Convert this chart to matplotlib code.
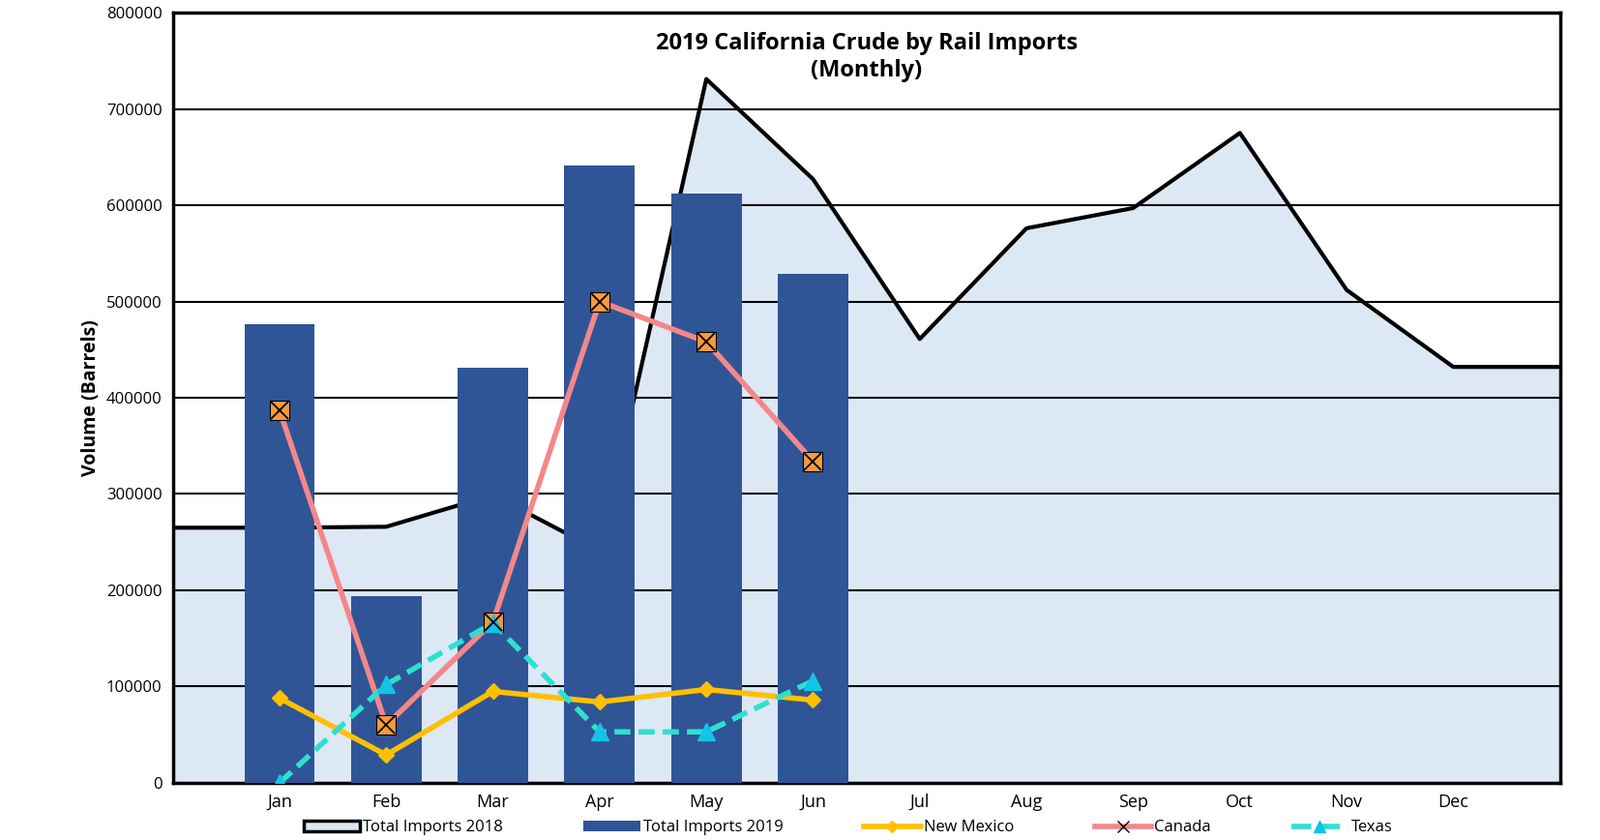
import matplotlib
matplotlib.use("Agg")
import matplotlib.pyplot as plt
import numpy as np
from matplotlib.lines import Line2D
from matplotlib.patches import Patch

months = ["Jan","Feb","Mar","Apr","May","Jun","Jul","Aug","Sep","Oct","Nov","Dec"]
total_2018 = [265000,266000,299000,241000,731000,627000,461000,576000,597000,675000,512000,432000]
total_2019 = [476000,194000,431000,641000,612000,529000]
new_mexico = [88000,29000,95000,84000,97000,86000]
canada = [387000,60000,167000,500000,458000,334000]
texas = [0,102000,166000,53000,53000,106000]

plt.rcParams["font.family"] = "Open Sans"
fig = plt.figure(figsize=(16.54, 8.68), dpi=100)
ax = fig.add_axes([0.108, 0.068, 0.867, 0.917])

x = np.arange(len(months))
xa = np.concatenate([[-1], x, [12]])
ya = np.concatenate([[total_2018[0]], total_2018, [total_2018[-1]]])
ax.fill_between(xa, ya, color="#dde8f5", zorder=1)
ax.plot(xa, ya, color="black", lw=3, zorder=2)

xb = np.arange(len(total_2019))
ax.bar(xb, total_2019, width=0.66, color="#2f5597", zorder=3)
ax.plot(xb, new_mexico, color="#ffc000", lw=4, marker="D", ms=8, zorder=4)
ax.plot(xb, canada, color="#f4878a", lw=4, zorder=4)
ax.plot(xb, canada, ls="none", marker="s", ms=15, mfc="#f79a3e", mec="black", mew=0.8, zorder=5)
ax.plot(xb, canada, ls="none", marker="x", ms=13, mec="black", mew=1.3, zorder=6)
ax.plot(xb, texas, color="#2ee0d0", lw=4, ls=(0, (3, 1.5)), zorder=4)
ax.plot(xb, texas, ls="none", marker="^", ms=13, color="#12c4e6", zorder=5)

ax.set_xlim(-1, 12)
ax.set_ylim(0, 800000)
ax.set_yticks(range(0, 800001, 100000))
ax.set_yticklabels([str(v) for v in range(0, 800001, 100000)], fontsize=12)
ax.set_xticks(x)
ax.set_xticklabels(months, fontsize=13)
ax.tick_params(length=0, pad=8)
ax.yaxis.grid(True, color="black", lw=1.5, zorder=0)
ax.set_axisbelow(False)
for s in ax.spines.values():
    s.set_linewidth(2.5)
ax.set_ylabel("Volume (Barrels)", fontsize=14, fontweight="bold")
ax.text(0.5, 0.975, "2019 California Crude by Rail Imports\n(Monthly)", transform=ax.transAxes,
        ha="center", va="top", fontsize=17, fontweight="bold", zorder=10)

handles = [
    Patch(facecolor="#dde8f5", edgecolor="black", lw=2.5),
    Patch(facecolor="#2f5597"),
    Line2D([], [], color="#ffc000", lw=4, marker="D", ms=6),
    Line2D([], [], color="#f4878a", lw=4, marker="x", mec="black", ms=8),
    Line2D([], [], color="#2ee0d0", lw=4, ls="--", marker="^", mfc="#12c4e6", mec="#12c4e6", ms=8),
]
labels = ["Total Imports 2018", "Total Imports 2019", "New Mexico", "Canada", "Texas"]
fig.legend(handles, labels, loc="lower center", bbox_to_anchor=(0.53, -0.012), ncol=5, frameon=False,
           fontsize=12, columnspacing=5, handlelength=3.5, handletextpad=0.2)
fig.savefig("out.png", dpi=100)
